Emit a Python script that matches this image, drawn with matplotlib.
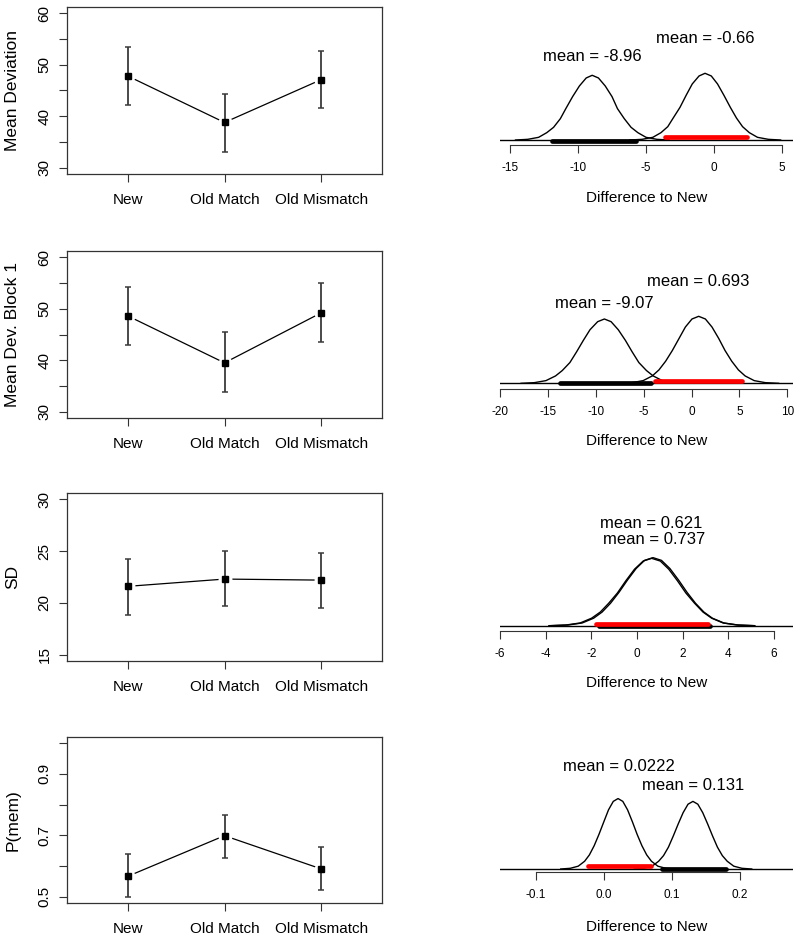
import matplotlib
matplotlib.use('Agg')
import matplotlib.pyplot as plt

plt.rcParams['font.family'] = ['Liberation Sans', 'DejaVu Sans']

W, H = 800, 938

conditions = ['New', 'Old Match', 'Old Mismatch']

# left column: condition means and error bar ends
mean_dev = [47.8, 38.8, 47.1]
mean_dev_lo = [42.2, 33.1, 41.6]
mean_dev_hi = [53.4, 44.4, 52.7]

block1 = [48.6, 39.5, 49.2]
block1_lo = [43.0, 33.9, 43.5]
block1_hi = [54.2, 45.4, 55.0]

sd_vals = [21.6, 22.3, 22.2]
sd_lo = [18.8, 19.7, 19.5]
sd_hi = [24.2, 25.0, 24.8]

pmem = [0.567, 0.699, 0.591]
pmem_lo = [0.500, 0.628, 0.521]
pmem_hi = [0.638, 0.767, 0.662]

# right column: posterior densities of the difference to New (heights relative)
r1_match_x = [-14.6, -13.7, -12.9, -12.3, -11.8, -11.3, -10.9, -10.4, -9.9, -9.4, -8.96,
              -8.5, -8.0, -7.5, -7.1, -6.6, -6.1, -5.6, -5.0, -4.2, -3.3]
r1_match_y = [0.00, 0.01, 0.04, 0.11, 0.19, 0.32, 0.47, 0.65, 0.81, 0.93, 0.97,
              0.93, 0.81, 0.65, 0.47, 0.32, 0.19, 0.11, 0.04, 0.01, 0.00]
r1_mis_x = [-6.2, -5.3, -4.5, -3.9, -3.4, -3.0, -2.5, -2.05, -1.6, -1.1, -0.66,
            -0.2, 0.26, 0.73, 1.2, 1.65, 2.1, 2.6, 3.2, 4.0, 4.9]
r1_mis_y = [0.00, 0.01, 0.04, 0.11, 0.20, 0.33, 0.49, 0.67, 0.84, 0.96, 1.00,
            0.96, 0.84, 0.67, 0.49, 0.33, 0.20, 0.11, 0.04, 0.01, 0.00]
r1_match_hdi = [-11.9, -5.74]
r1_mis_hdi = [-3.6, 2.43]
r1_means = [-8.96, -0.66]

r2_match_x = [-17.8, -16.4, -15.2, -14.2, -13.5, -12.7, -12.0, -11.3, -10.6, -9.8, -9.1,
              -8.4, -7.65, -6.9, -6.2, -5.5, -4.7, -4.0, -3.05, -1.8, -0.4]
r2_match_y = [0.00, 0.01, 0.04, 0.11, 0.19, 0.31, 0.47, 0.64, 0.80, 0.92, 0.96,
              0.92, 0.80, 0.64, 0.47, 0.31, 0.19, 0.11, 0.04, 0.01, 0.00]
r2_mis_x = [-7.6, -6.2, -5.05, -4.1, -3.4, -2.7, -2.0, -1.3, -0.64, 0.05, 0.75,
            1.45, 2.14, 2.84, 3.5, 4.2, 4.9, 5.6, 6.55, 7.7, 9.1]
r2_mis_y = [0.00, 0.01, 0.04, 0.11, 0.20, 0.33, 0.49, 0.67, 0.84, 0.96, 1.00,
            0.96, 0.84, 0.67, 0.49, 0.33, 0.20, 0.11, 0.04, 0.01, 0.00]
r2_match_hdi = [-13.7, -4.2]
r2_mis_hdi = [-3.8, 5.3]
r2_means = [-9.07, 0.693]

r3_match_x = [-3.76, -3.02, -2.40, -1.90, -1.53, -1.16, -0.79, -0.42, -0.04, 0.33, 0.70,
              1.07, 1.44, 1.82, 2.19, 2.56, 2.93, 3.30, 3.80, 4.42, 5.16]
r3_match_y = [0.00, 0.01, 0.04, 0.11, 0.20, 0.33, 0.49, 0.67, 0.84, 0.96, 1.00,
              0.96, 0.84, 0.67, 0.49, 0.33, 0.20, 0.11, 0.04, 0.01, 0.00]
r3_mis_x = [-3.86, -3.11, -2.49, -1.99, -1.61, -1.24, -0.86, -0.49, -0.11, 0.27, 0.64,
            1.02, 1.39, 1.77, 2.14, 2.52, 2.89, 3.27, 3.77, 4.39, 5.14]
r3_mis_y = [0.00, 0.01, 0.04, 0.11, 0.20, 0.33, 0.48, 0.66, 0.83, 0.95, 0.99,
            0.95, 0.83, 0.66, 0.48, 0.33, 0.20, 0.11, 0.04, 0.01, 0.00]
r3_match_hdi = [-1.68, 3.18]
r3_mis_hdi = [-1.8, 3.12]
r3_means = [0.737, 0.621]

r4_match_x = [0.0446, 0.059, 0.071, 0.0806, 0.0878, 0.095, 0.1022, 0.1094, 0.1166, 0.1238, 0.131,
              0.1382, 0.1454, 0.1526, 0.1598, 0.167, 0.1742, 0.1814, 0.191, 0.203, 0.2174]
r4_match_y = [0.00, 0.01, 0.04, 0.11, 0.19, 0.31, 0.47, 0.64, 0.80, 0.92, 0.96,
              0.92, 0.80, 0.64, 0.47, 0.31, 0.19, 0.11, 0.04, 0.01, 0.00]
r4_mis_x = [-0.0632, -0.0492, -0.0375, -0.0281, -0.0211, -0.0141, -0.0071, 0.0001, 0.007, 0.014, 0.021,
            0.028, 0.035, 0.0421, 0.0491, 0.0561, 0.0631, 0.0701, 0.0795, 0.0912, 0.1052]
r4_mis_y = [0.00, 0.01, 0.04, 0.11, 0.20, 0.33, 0.49, 0.67, 0.84, 0.96, 1.00,
            0.96, 0.84, 0.67, 0.49, 0.33, 0.20, 0.11, 0.04, 0.01, 0.00]
r4_match_hdi = [0.085, 0.179]
r4_mis_hdi = [-0.0228, 0.0689]
r4_means = [0.131, 0.0222]


def px_axes(fig, l, t, r, b):
    return fig.add_axes([l / W, 1 - b / H, (r - l) / W, (b - t) / H])


def left_panel(ax, vals, lo, hi, ylim, ticks, labels):
    xs = [1, 2, 3]
    ax.plot(xs, vals, color='black', lw=0.9, zorder=1)
    ax.plot(xs, vals, 'o', color='white', ms=9, zorder=2)
    err = [[v - l for v, l in zip(vals, lo)], [h - v for v, h in zip(vals, hi)]]
    ax.errorbar(xs, vals, yerr=err, fmt='none', ecolor='#3a3a3a', elinewidth=1.3,
                capsize=2.4, capthick=1.1, zorder=3)
    ax.plot(xs, vals, 's', color='black', ms=4.6, zorder=4)
    ax.set_xlim(0.37, 3.63)
    ax.set_ylim(*ylim)
    ax.set_xticks(xs)
    ax.set_xticklabels(conditions, fontsize=11)
    ax.set_yticks(ticks)
    ax.set_yticklabels(labels, fontsize=11, rotation=90, va='center')
    ax.tick_params(axis='x', length=6, width=0.8, pad=7.5, color='#333333')
    ax.tick_params(axis='y', length=6, width=0.8, pad=5, color='#333333')
    for s in ax.spines.values():
        s.set_linewidth(0.9)
        s.set_color('#333333')


def right_panel(ax, match, mis, xlim, ylim, ticks, ticklabels, bar_y, text_y, fmt):
    mx, my, mhdi, mmean = match
    sx, sy, shdi, smean = mis
    ax.axhline(0, color='black', lw=1.0)
    ax.plot(mx, my, color='black', lw=1.0)
    ax.plot(sx, sy, color='black', lw=1.0)
    ax.plot(mhdi, [bar_y[0]] * 2, color='black', lw=3.4, solid_capstyle='round')
    ax.plot(shdi, [bar_y[1]] * 2, color='#ff0000', lw=3.4, solid_capstyle='round')
    ax.text(mmean, text_y[0], 'mean = ' + fmt[0] % mmean, ha='center', va='center', fontsize=12)
    ax.text(smean, text_y[1], 'mean = ' + fmt[1] % smean, ha='center', va='center', fontsize=12)
    ax.set_xlim(*xlim)
    ax.set_ylim(*ylim)
    ax.set_xticks(ticks)
    ax.set_xticklabels(ticklabels, fontsize=8.5)
    ax.set_yticks([])
    for k in ['left', 'right', 'top']:
        ax.spines[k].set_visible(False)
    ax.spines['bottom'].set_bounds(ticks[0], ticks[-1])
    ax.spines['bottom'].set_linewidth(0.8)
    ax.spines['bottom'].set_color('#333333')
    ax.tick_params(axis='x', length=5.5, width=0.8, pad=6.5, color='#333333')
    ax.patch.set_alpha(0)


fig = plt.figure(figsize=(W / 100, H / 100), dpi=100)

rows = [(7, 174), (251, 418), (493, 661), (737, 903)]
axis_y = [145, 389, 631, 872]
xlabel_y = [198, 441, 683, 927]
ylabels = ['Mean Deviation', 'Mean Dev. Block 1', 'SD', 'P(mem)']

left_data = [
    (mean_dev, mean_dev_lo, mean_dev_hi, (28.8, 61.2), [30, 35, 40, 45, 50, 55, 60],
     ['30', '', '40', '', '50', '', '60']),
    (block1, block1_lo, block1_hi, (28.8, 61.2), [30, 35, 40, 45, 50, 55, 60],
     ['30', '', '40', '', '50', '', '60']),
    (sd_vals, sd_lo, sd_hi, (14.4, 30.6), [15, 20, 25, 30], ['15', '20', '25', '30']),
    (pmem, pmem_lo, pmem_hi, (0.48, 1.02), [0.5, 0.6, 0.7, 0.8, 0.9, 1.0],
     ['0.5', '', '0.7', '', '0.9', '']),
]

for i, (t, b) in enumerate(rows):
    ax = px_axes(fig, 67, t, 382, b)
    left_panel(ax, *left_data[i])
    fig.text(13 / W, 1 - (t + b) / 2 / H, ylabels[i], rotation=90, ha='center', va='center',
             fontsize=12.5)

right_cfg = [
    ((r1_match_x, r1_match_y, r1_match_hdi, r1_means[0]),
     (r1_mis_x, r1_mis_y, r1_mis_hdi, r1_means[1]),
     (-15.74, 5.81), (-0.075, 1.994), [-15, -10, -5, 0, 5], ['-15', '-10', '-5', '0', '5'],
     (-0.01, 0.04), (1.25, 1.525), ('%.2f', '%.2f')),
    ((r2_match_x, r2_match_y, r2_match_hdi, r2_means[0]),
     (r2_mis_x, r2_mis_y, r2_mis_hdi, r2_means[1]),
     (-19.9, 10.6), (-0.085, 1.975), [-20, -15, -10, -5, 0, 5, 10],
     ['-20', '-15', '-10', '-5', '0', '5', '10'],
     (0.0, 0.035), (1.194, 1.516), ('%.2f', '%.3f')),
    ((r3_match_x, r3_match_y, r3_match_hdi, r3_means[0]),
     (r3_mis_x, r3_mis_y, r3_mis_hdi, r3_means[1]),
     (-5.67, 6.83), (-0.078, 1.95), [-6, -4, -2, 0, 2, 4, 6],
     ['-6', '-4', '-2', '0', '2', '4', '6'],
     (-0.005, 0.025), (1.27, 1.506), ('%.3f', '%.3f')),
    ((r4_match_x, r4_match_y, r4_match_hdi, r4_means[0]),
     (r4_mis_x, r4_mis_y, r4_mis_hdi, r4_means[1]),
     (-0.1524, 0.278), (-0.0425, 1.874), [-0.1, 0.0, 0.1, 0.2],
     ['-0.1', '0.0', '0.1', '0.2'],
     (-0.005, 0.037), (1.18, 1.453), ('%.3f', '%.4f')),
]

for i, (t, b) in enumerate(rows):
    ax = px_axes(fig, 500, t, 793, axis_y[i])
    right_panel(ax, *right_cfg[i])
    fig.text(646.5 / W, 1 - xlabel_y[i] / H, 'Difference to New', ha='center', va='center',
             fontsize=11)

fig.savefig('out.png', dpi=100)
